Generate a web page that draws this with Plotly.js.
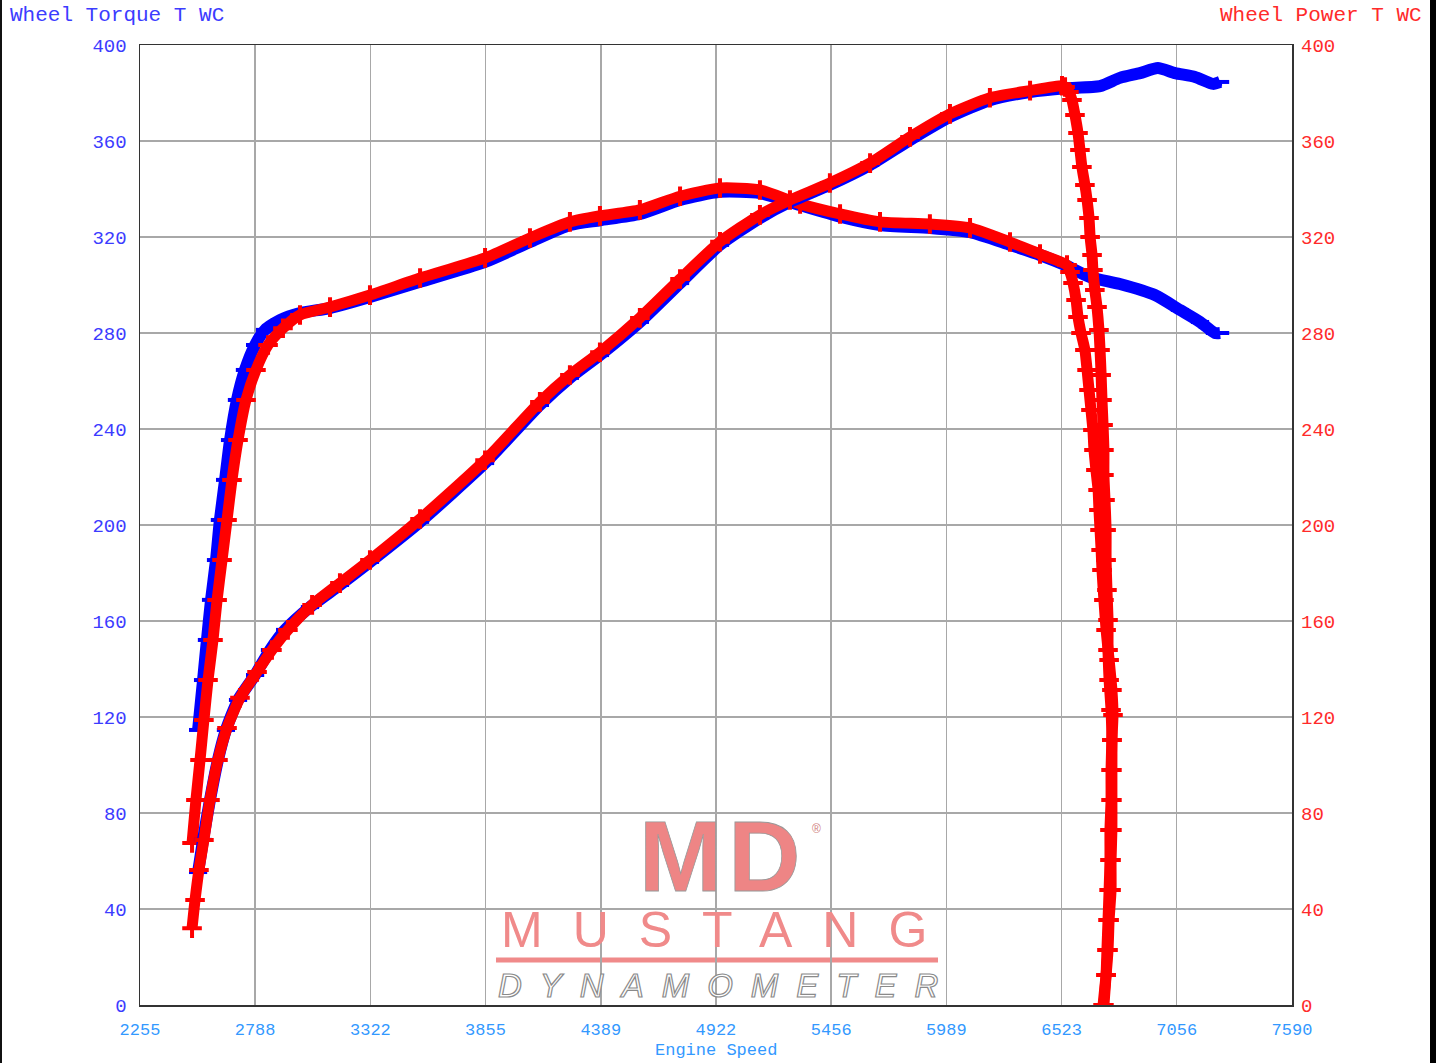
<!DOCTYPE html>
<html>
<head>
<meta charset="utf-8">
<script src="https://cdn.plot.ly/plotly-3.0.1.min.js"></script>
<style>
  html, body { margin: 0; padding: 0; background: #fff; overflow: hidden; }
  #chart { position: absolute; left: 0; top: 0; width: 1439px; height: 1063px; }
  .edgeL { position: absolute; left: 0; top: 0; width: 2px; height: 1063px; background: #111; z-index: 5; }
  .edgeR { position: absolute; left: 1430px; top: 0; width: 6px; height: 1063px; background: #000; z-index: 5; }
  .annotation[data-index="2"] text { letter-spacing: 6px; stroke: #999; stroke-width: 0.8px; }
  .annotation[data-index="4"] text { letter-spacing: 30px; }
  .annotation[data-index="5"] text { letter-spacing: 18px; stroke: #8a8a8a; stroke-width: 1.2px; }
</style>
</head>
<body>
<div id="chart"></div>
<div class="edgeL"></div>
<div class="edgeR"></div>
<script>
// ---- Axis ticks ----
const xTickVals = [2255, 2788, 3322, 3855, 4389, 4922, 5456, 5989, 6523, 7056, 7590];
const xTickText = ["2255", "2788", "3322", "3855", "4389", "4922", "5456", "5989", "6523", "7056", "7590"];
const yTickVals = [0, 40, 80, 120, 160, 200, 240, 280, 320, 360, 400];

// ---- Blue run ----
const blueTorqueRpm = [2524,2547,2565,2584,2607,2625,2649,2672,2704,2741,2788,2834,2903,2996,3135,3320,3552,3853,4061,4246,4385,4570,4756,4941,5126,5312,5497,5682,5913,6099,6284,6423,6539,6655,6793,6955,7071,7164,7233,7257];
const blueTorque = [114.6,135.4,152.1,168.8,185.4,202.1,218.8,235.4,252.1,264.6,275,281.3,285.4,288.3,290.4,295,301.3,309.6,317.9,325,327,329.6,335.4,338.8,338.3,333.3,328.5,325,323.8,322,316.7,312.5,308.3,303.3,300.4,295.8,289.6,284.6,280,280];

const bluePowerRpm = [2524,2547,2579,2616,2653,2709,2788,2857,2927,3042,3181,3320,3552,3853,4107,4246,4385,4570,4756,4941,5126,5265,5450,5636,5821,6006,6191,6377,6539,6701,6793,6886,6969,7048,7141,7224,7257];
const bluePower = [55.4,68.8,85.4,102.1,114.6,127.1,137.5,147.9,156.3,165.8,175,184.6,201.3,225.8,250,261.3,270.8,284.6,300.8,316.7,327.9,334.6,341.7,350,360.4,370,377,380.4,382,382.9,386.3,388.3,390.4,388.3,386.7,383.8,384.6];

// ---- Red run (includes the roll-down at the end) ----
const redTorqueRpm = [2496,2514,2533,2551,2570,2593,2612,2635,2658,2681,2709,2746,2792,2848,2917,2996,3135,3320,3552,3853,4061,4246,4385,4570,4756,4941,5126,5312,5497,5682,5913,6099,6284,6423,6548,
  6562,6576,6590,6599,6613,6631,6641,6650,6659,6668,6673,6682,6692,6696,6701,6706,6710,6719,6729,6743,6756,6761,6756,6752,6752,6747,6747,6743,6738,6733,6729,6719];
const redTorque = [67.5,85.4,102.1,118.8,135.4,152.1,168.8,185.4,202.1,218.8,235.4,252.1,264.6,275,282,287.5,290.8,295.8,302.9,311.3,319.6,326.3,328.8,331.3,337,340.4,339.6,333.8,329.6,326.3,325.4,323.8,317.9,312.9,308.3,
  305.4,300.8,293.8,286.7,280,272.9,264.6,256.3,247.9,239.6,231.3,222.9,214.6,206.3,197.9,189.6,181.3,168.8,156.3,143.8,131.3,120.8,110.4,97.9,85.4,72.9,60.4,47.9,35.4,22.9,12.5,0];

const redPowerRpm = [2496,2510,2528,2551,2579,2616,2658,2718,2797,2866,2940,3052,3181,3320,3552,3853,4107,4246,4385,4570,4756,4941,5126,5265,5450,5636,5821,6006,6191,6377,6525,
  6539,6557,6571,6585,6599,6608,6617,6631,6641,6650,6655,6664,6668,6677,6687,6696,6701,6706,6710,6715,6719,6719,6724,6729,6729,6733,6738,6738,6743,6752,6756,6756,6756,6756,6752,6752,6743,6738,6729,6715];
const redPower = [32,43.8,56.3,68.8,85.4,102.1,115.4,128,138.8,147.9,156.3,166.7,175.8,185.4,202.5,227,251.3,262.5,272,286.3,302.5,318,329.2,335.4,342.5,350.8,361.7,371.3,378,381,383,
  382.5,380.4,377.1,370.8,363.3,356.3,349.2,341.7,335.4,327.9,320,312.5,306.3,297.9,290.8,281.3,272.9,262.5,252.1,241.7,231.3,220.8,210.4,197.9,185.4,172.9,160.4,147.9,135.4,122.9,110.4,97.9,85.4,72.9,60.4,47.9,35.4,22.9,12.5,0];

const BLUE = "#0000ff";
const RED = "#ff0000";
const MONO = "Liberation Mono, Courier New, monospace";

function run(x, y, color, axis, symbol, msize, lw) {
  return {
    x: x, y: y, yaxis: axis, type: "scatter", mode: "lines+markers",
    line: { color: color, width: lw, shape: "spline", smoothing: 0.6 },
    marker: { symbol: symbol, size: msize, color: color, line: { color: color, width: 4 } },
    hoverinfo: "x+y", showlegend: false
  };
}

const data = [
  run(blueTorqueRpm, blueTorque, BLUE, "y", "line-ew", 13, 12),
  run(bluePowerRpm, bluePower, BLUE, "y2", "line-ew", 13, 12),
  run(redTorqueRpm, redTorque, RED, "y", "cross-thin", 14, 11),
  run(redPowerRpm, redPower, RED, "y2", "cross-thin", 14, 11)
];

const px = v => (v - 140) / 1152;
const py = v => (1005 - v) / 960;

const layout = {
  width: 1439, height: 1063,
  margin: { l: 140, r: 147, t: 45, b: 58, pad: 0 },
  paper_bgcolor: "#ffffff", plot_bgcolor: "#ffffff",
  showlegend: false,
  font: { family: MONO },
  xaxis: {
    range: [2255, 7590], tickmode: "array", tickvals: xTickVals, ticktext: xTickText,
    tickfont: { family: MONO, size: 17, color: "#3399ff" },
    showgrid: true, gridcolor: "#a8a8a8", gridwidth: 1.5,
    showline: true, linecolor: "#333333", linewidth: 1.5, mirror: true,
    ticks: "", zeroline: false, ticklabelstandoff: 8, fixedrange: true
  },
  yaxis: {
    range: [0, 400], tickmode: "array", tickvals: yTickVals,
    tickfont: { family: MONO, size: 19, color: "#3c3cff" },
    showgrid: true, gridcolor: "#a8a8a8", gridwidth: 1.5,
    showline: true, linecolor: "#333333", linewidth: 1.5, mirror: true,
    ticks: "", zeroline: false, ticklabelstandoff: 8, fixedrange: true
  },
  yaxis2: {
    range: [0, 400], tickmode: "array", tickvals: yTickVals, overlaying: "y", side: "right",
    tickfont: { family: MONO, size: 19, color: "#ff2a2a" },
    showgrid: false, showline: false, ticks: "", zeroline: false, ticklabelstandoff: 8, fixedrange: true
  },
  shapes: [
    { type: "line", xref: "paper", yref: "paper", x0: px(496), x1: px(938), y0: py(960), y1: py(960),
      line: { color: "#f08a8a", width: 5 }, layer: "below" }
  ],
  annotations: [
    { text: "Wheel Torque T WC", xref: "paper", yref: "paper", x: px(8), y: py(15), xanchor: "left", yanchor: "middle",
      showarrow: false, font: { family: MONO, size: 21, color: "#3c3cff" } },
    { text: "Wheel Power T WC", xref: "paper", yref: "paper", x: px(1424), y: py(15), xanchor: "right", yanchor: "middle",
      showarrow: false, font: { family: MONO, size: 21, color: "#ff2a2a" } },
    { text: "MD", xref: "paper", yref: "paper", x: px(723), y: py(856), xanchor: "center", yanchor: "middle",
      showarrow: false, font: { family: "Liberation Sans, Arial, sans-serif", size: 100, weight: 900, color: "#ee8585" } },
    { text: "®", xref: "paper", yref: "paper", x: px(816), y: py(829), xanchor: "center", yanchor: "middle",
      showarrow: false, font: { family: "Liberation Sans, Arial, sans-serif", size: 12, color: "#d08080" } },
    { text: "MUSTANG", xref: "paper", yref: "paper", x: px(729), y: py(930), xanchor: "center", yanchor: "middle",
      showarrow: false, font: { family: "Liberation Sans, Arial, sans-serif", size: 50, color: "#f08a8a" } },
    { text: "DYNAMOMETER", xref: "paper", yref: "paper", x: px(727), y: py(985), xanchor: "center", yanchor: "middle",
      showarrow: false, font: { family: "Liberation Sans, Arial, sans-serif", size: 33, style: "italic", color: "#ffffff" } },
    { text: "Engine Speed", xref: "paper", yref: "paper", x: px(716), y: py(1050), xanchor: "center", yanchor: "middle",
      showarrow: false, font: { family: MONO, size: 17, color: "#3399ff" } }
  ]
};

Plotly.newPlot("chart", data, layout, { displayModeBar: false, staticPlot: true });
</script>
</body>
</html>
